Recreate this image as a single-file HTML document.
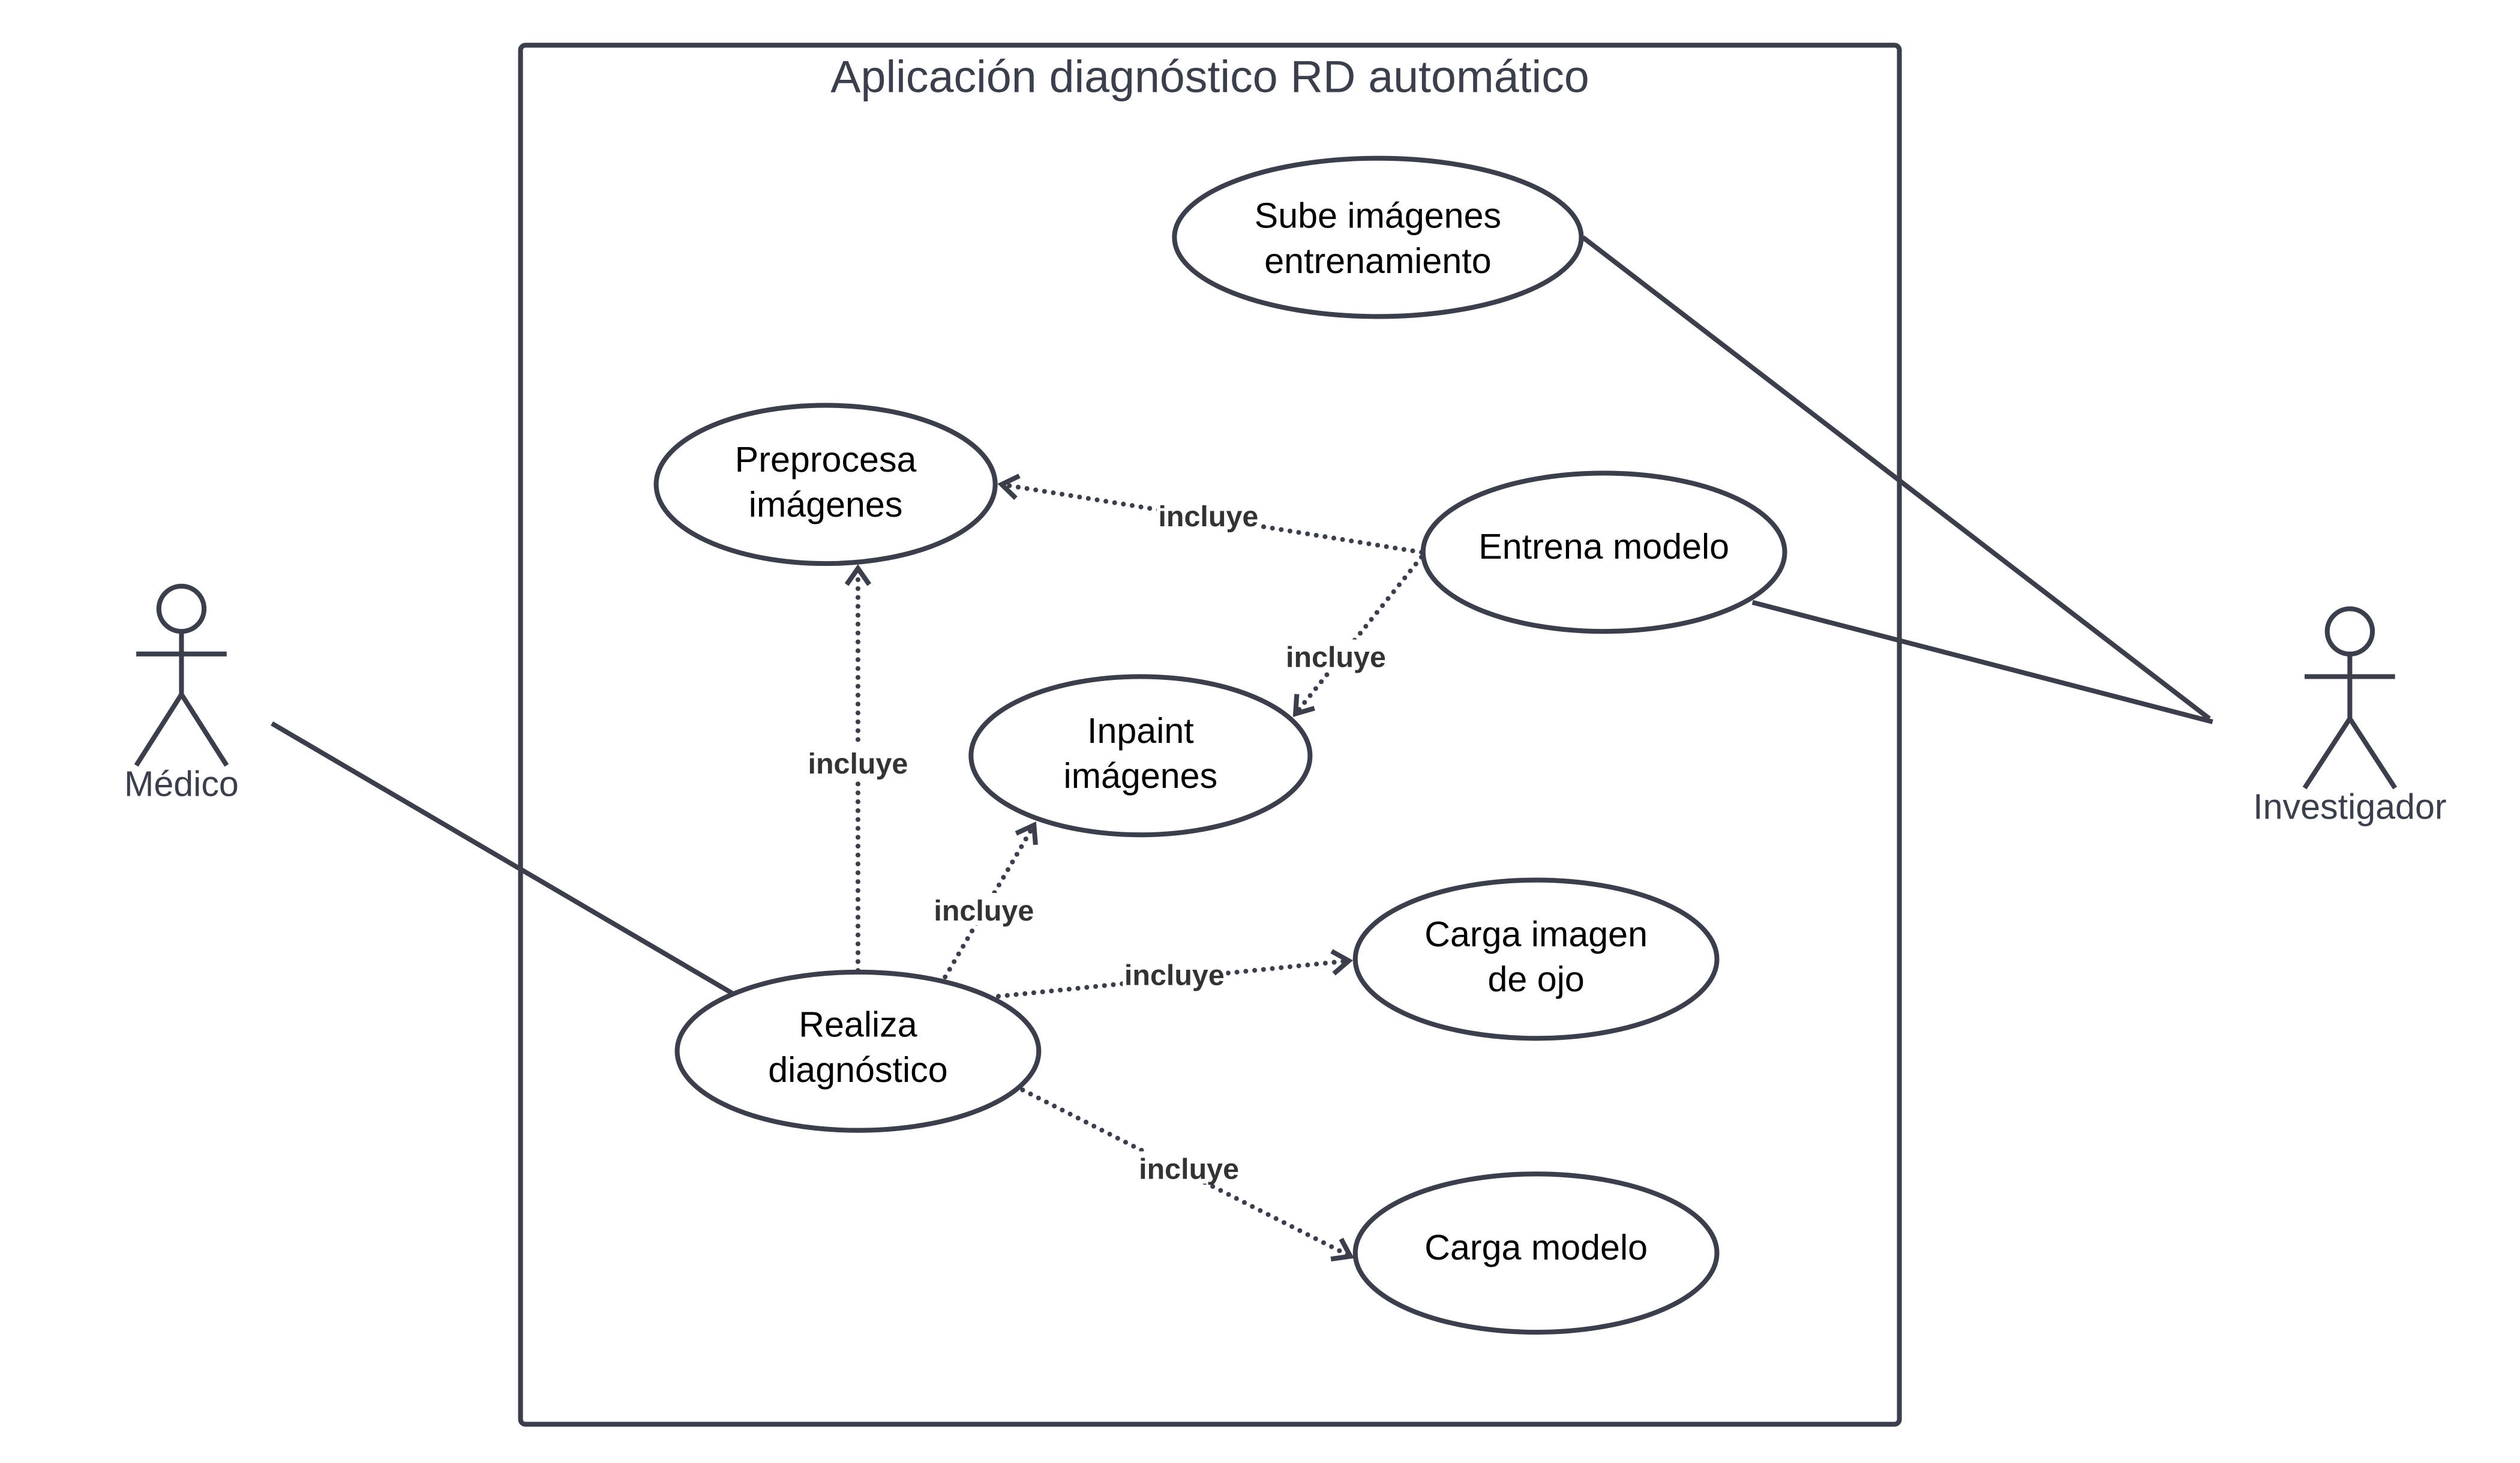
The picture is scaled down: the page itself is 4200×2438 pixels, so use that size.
<!DOCTYPE html>
<html><head><meta charset="utf-8"><style>
html,body{margin:0;padding:0;background:#fff;}
svg{display:block;}
</style></head><body>
<svg width="4200" height="2438" viewBox="0 0 1560 906" xmlns="http://www.w3.org/2000/svg">
<defs>
<marker id="ar" markerUnits="userSpaceOnUse" markerWidth="30" markerHeight="30" refX="14" refY="10" orient="auto">
<path d="M4,3 L14,10 L4,17" fill="none" stroke="#3a3f4b" stroke-width="3"/>
</marker>
</defs>
<g fill="none" stroke="#3a3f4b" stroke-width="3">
<rect x="322" y="28" width="854" height="854" rx="3"/>
<line x1="168" y1="448" x2="453" y2="615"/>
<line x1="980" y1="147" x2="1368" y2="445"/>
<line x1="1085" y1="373" x2="1370" y2="447"/>
<circle cx="112" cy="377" r="14"/>
<line x1="112" y1="391" x2="112" y2="430"/>
<line x1="84" y1="405" x2="140" y2="405"/>
<polyline points="84,474 112,430 140,474"/>
<circle cx="1455" cy="391" r="14"/>
<line x1="1455" y1="405" x2="1455" y2="445"/>
<line x1="1427" y1="419" x2="1483" y2="419"/>
<polyline points="1427,488 1455,445 1483,488"/>
</g>
<g fill="none" stroke="#3a3f4b" stroke-width="3" stroke-dasharray="0 5.5" stroke-linecap="round">
<line x1="880" y1="342" x2="620" y2="300" marker-end="url(#ar)"/>
<line x1="880" y1="345" x2="802" y2="442" marker-end="url(#ar)"/>
<line x1="531" y1="601" x2="531" y2="352" marker-end="url(#ar)"/>
<line x1="585" y1="605" x2="640" y2="511" marker-end="url(#ar)"/>
<line x1="618" y1="617" x2="835" y2="595" marker-end="url(#ar)"/>
<line x1="633" y1="675" x2="836" y2="778" marker-end="url(#ar)"/>
</g>
<g fill="#fff" stroke="#3a3f4b" stroke-width="3">
<ellipse cx="853" cy="147" rx="126" ry="49"/>
<ellipse cx="511" cy="300" rx="105" ry="49"/>
<ellipse cx="993" cy="342" rx="112" ry="49"/>
<ellipse cx="706" cy="468" rx="105" ry="49"/>
<ellipse cx="951" cy="594" rx="112" ry="49"/>
<ellipse cx="531" cy="651" rx="112" ry="49"/>
<ellipse cx="951" cy="776" rx="112" ry="49"/>
</g>
<g font-family="Liberation Sans, sans-serif" font-size="22" fill="#000" text-anchor="middle">
<text x="853" y="141">Sube imágenes</text><text x="853" y="169">entrenamiento</text>
<text x="511" y="292">Preprocesa</text><text x="511" y="320">imágenes</text>
<text x="993" y="346">Entrena modelo</text>
<text x="706" y="460">Inpaint</text><text x="706" y="488">imágenes</text>
<text x="951" y="586">Carga imagen</text><text x="951" y="614">de ojo</text>
<text x="531" y="642">Realiza</text><text x="531" y="670">diagnóstico</text>
<text x="951" y="780">Carga modelo</text>
</g>
<g font-family="Liberation Sans, sans-serif" fill="#3a3f4b" text-anchor="middle">
<text x="749" y="57" font-size="28">Aplicación diagnóstico RD automático</text>
<text x="112" y="493" font-size="22">Médico</text>
<text x="1455" y="507" font-size="22">Investigador</text>
</g>
<g fill="#fff">
<rect x="716" y="309" width="64" height="20"/>
<rect x="795" y="396" width="64" height="20"/>
<rect x="499" y="462" width="64" height="20"/>
<rect x="577" y="553" width="64" height="20"/>
<rect x="695" y="593" width="64" height="20"/>
<rect x="704" y="713" width="64" height="20"/>
</g>
<g font-family="Liberation Sans, sans-serif" font-size="18" font-weight="bold" fill="#333" text-anchor="middle">
<text x="748" y="326">incluye</text>
<text x="827" y="413">incluye</text>
<text x="531" y="479">incluye</text>
<text x="609" y="570">incluye</text>
<text x="727" y="610">incluye</text>
<text x="736" y="730">incluye</text>
</g>
</svg>
</body></html>
